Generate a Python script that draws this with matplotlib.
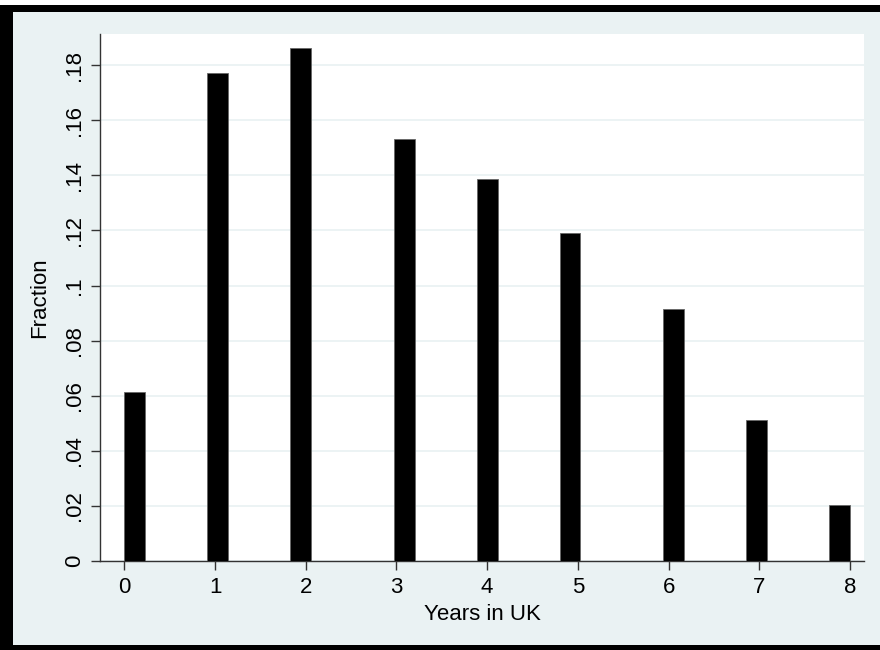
import numpy as np
import matplotlib
matplotlib.use("Agg")
import matplotlib.pyplot as plt
from matplotlib.patches import Rectangle

# Data
years = [0, 1, 2, 3, 4, 5, 6, 7, 8]
fractions = [0.0612, 0.1771, 0.1862, 0.1531, 0.1385, 0.1192, 0.0915, 0.0513, 0.0205]
n_bins = 35
x_ticks = [0, 1, 2, 3, 4, 5, 6, 7, 8]
y_ticks = [0, 0.02, 0.04, 0.06, 0.08, 0.10, 0.12, 0.14, 0.16, 0.18]
y_tick_labels = ["0", ".02", ".04", ".06", ".08", ".1", ".12", ".14", ".16", ".18"]
x_label = "Years in UK"
y_label = "Fraction"

plt.rcParams['font.family'] = ['Liberation Sans', 'DejaVu Sans']

W, H = 880, 650
fig = plt.figure(figsize=(W / 100, H / 100), dpi=100)
fig.patch.set_facecolor("white")

bg = "#EAF2F3"
# light background region and black frame
fig.patches.append(Rectangle((13 / W, (H - 645) / H), (W - 13) / W, (645 - 12) / H,
                             transform=fig.transFigure, facecolor=bg, edgecolor="none", zorder=-2))
fig.patches.append(Rectangle((0, (H - 645) / H), 13 / W, (645 - 5) / H,
                             transform=fig.transFigure, facecolor="black", edgecolor="none", zorder=-1))
fig.patches.append(Rectangle((0, (H - 12) / H), 1, 7 / H,
                             transform=fig.transFigure, facecolor="black", edgecolor="none", zorder=-1))
fig.patches.append(Rectangle((0, 0), 1, 5 / H,
                             transform=fig.transFigure, facecolor="black", edgecolor="none", zorder=-1))

ax = fig.add_axes([100 / W, (H - 561) / H, (864 - 100) / W, (561 - 34) / H])
ax.set_zorder(10)
ax.set_facecolor("white")

edges = np.linspace(0, 8, n_bins + 1)
ax.hist(years, bins=edges, weights=fractions, color="black", edgecolor="#666666",
        linewidth=0.6, zorder=3)

ax.set_xlim(-0.268, 8.154)
ax.set_ylim(0, 0.1913)

ax.set_yticks(y_ticks)
ax.set_yticklabels(y_tick_labels, rotation=90, va="center", fontsize=16)
ax.set_xticks(x_ticks)
ax.set_xticklabels([str(t) for t in x_ticks], fontsize=16)

ax.grid(axis="y", color=bg, linewidth=1.3, zorder=1)
ax.set_axisbelow(True)

for s in ["top", "right"]:
    ax.spines[s].set_visible(False)
for s in ["left", "bottom"]:
    ax.spines[s].set_color("#333333")
    ax.spines[s].set_linewidth(1.0)
ax.tick_params(axis="both", length=6.5, width=1.0, color="#333333", labelcolor="black")
ax.tick_params(axis="x", pad=5)
ax.tick_params(axis="y", pad=4)

ax.set_xlabel(x_label, fontsize=16, labelpad=4)
ax.set_ylabel(y_label, fontsize=16, labelpad=10)

fig.savefig("out.png", dpi=100, facecolor=fig.get_facecolor())
